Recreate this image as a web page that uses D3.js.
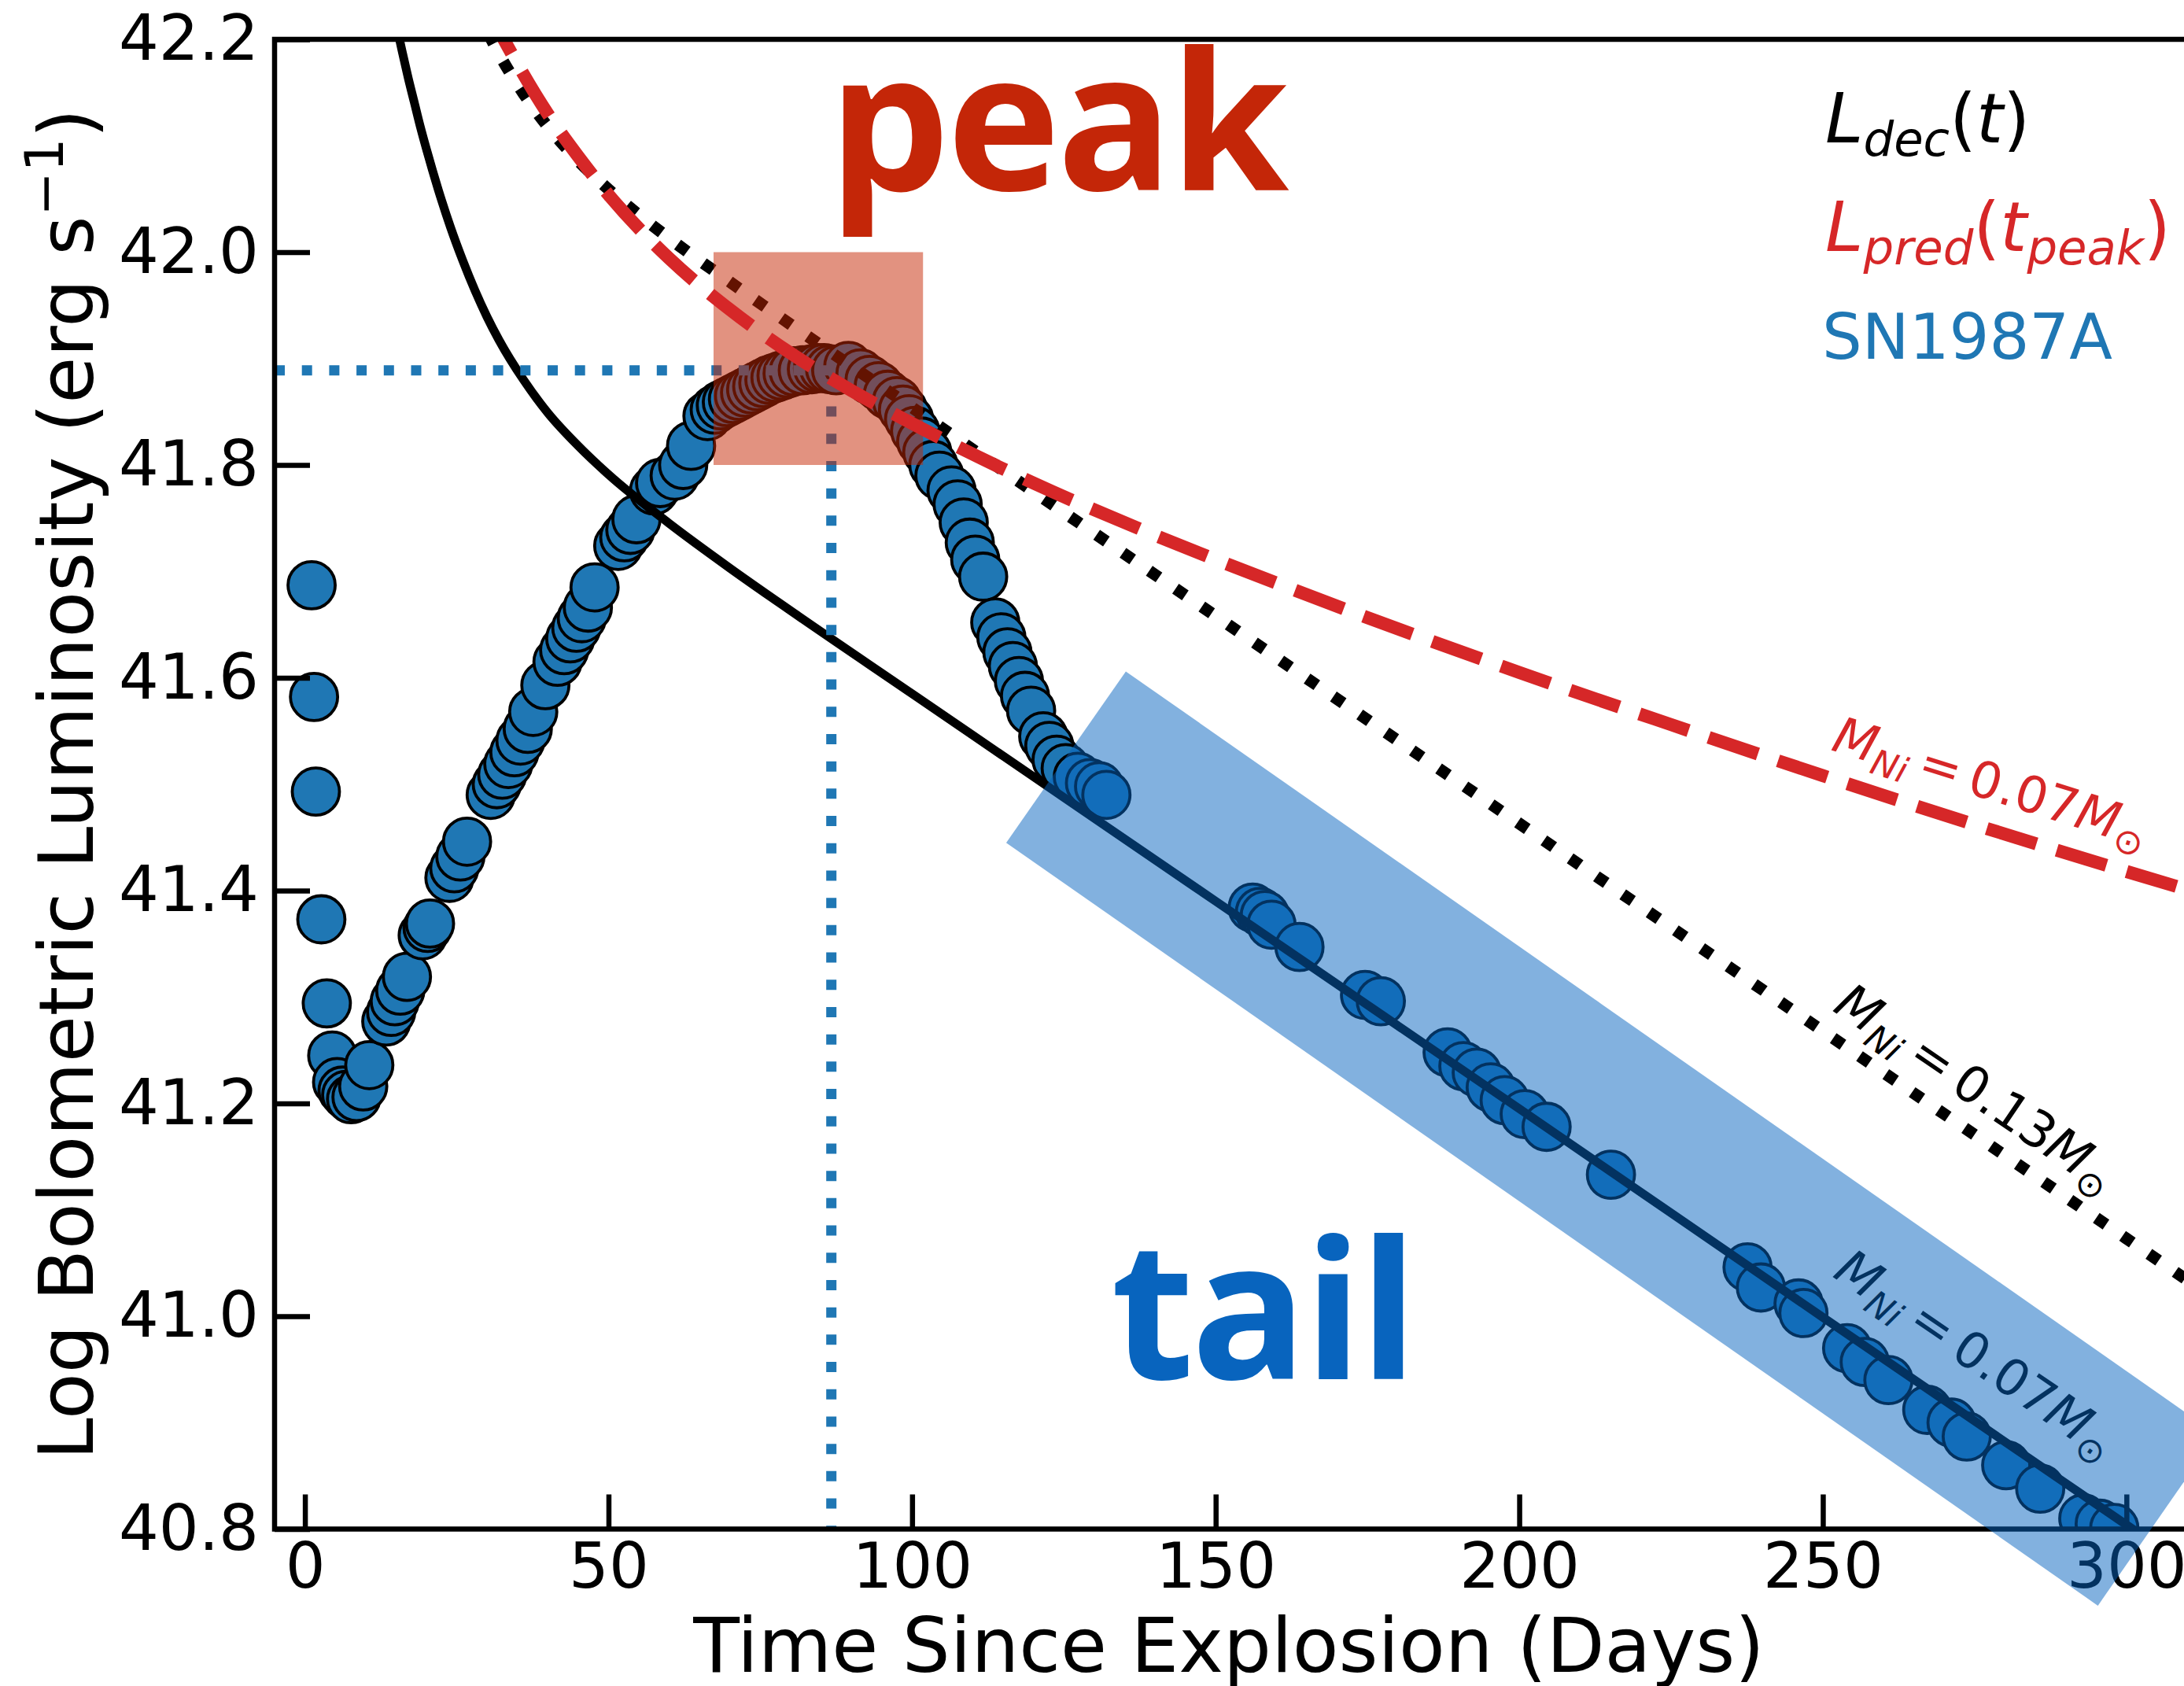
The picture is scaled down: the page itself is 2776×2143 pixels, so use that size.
<!DOCTYPE html>
<html>
<head>
<meta charset="utf-8">
<script src="https://cdn.jsdelivr.net/npm/d3@7"></script>
<style>
  html, body { margin: 0; padding: 0; background: #ffffff; }
  svg { display: block; }
</style>
</head>
<body>
<svg id="chart"></svg>
<script>
// ---------------- data ----------------
// SN1987A bolometric light curve (days since explosion, log L in erg/s)
const snDays = [
  1.1, 1.5, 1.8, 2.7, 3.6, 4.5, 5.3, 6.2, 6.8, 7.6, 8.5, 9.6, 10.6,
  13.4, 14.2, 14.8, 15.7, 16.8, 19.4, 20.2, 20.6, 23.8, 24.6, 25.6, 26.7,
  30.6, 31.6, 32.5, 33.5, 34.5, 35.5, 36.7, 37.6, 39.6,
  41.6, 42.7, 43.7, 44.7, 45.6, 46.6, 47.7,
  51.6, 52.6, 53.6, 54.6,
  57.5, 58.5, 60.9, 62.3, 63.6, 66.3,
  67.5, 68.5, 69.5, 70.5, 71.5, 72.5, 73.5, 74.5, 75.5, 76.5, 77.5, 78.5, 79.5, 80.5,
  82.0, 83.5, 84.5, 85.5, 86.5, 87.5, 89.5, 91.5, 93.0, 94.5, 96.0, 97.5,
  98.5, 99.5, 100.5, 101.5, 102.5, 103.5, 104.5, 106.5, 107.5, 108.5, 109.5, 110.4, 111.7,
  113.7, 114.7, 115.7, 116.6, 117.6, 118.6, 119.6, 121.6, 122.6, 123.8, 125.3, 127.3, 129.3, 130.8, 132.0,
  156.1, 157.3, 158.1, 159.2, 163.8, 174.6, 177.2, 188.2, 190.8, 193.0, 195.3, 197.6, 200.9, 204.5, 215.1,
  237.6, 239.8, 246.0, 246.8, 254.0, 256.9, 260.8, 267.2, 271.2, 273.7, 280.2, 285.8, 292.9, 295.6, 298.0
];
const snLogL = [
  41.687, 41.582, 41.493, 41.373, 41.294, 41.245, 41.220, 41.212, 41.208, 41.204, 41.206, 41.216, 41.236,
  41.277, 41.286, 41.296, 41.306, 41.319, 41.358, 41.365, 41.369, 41.412, 41.421, 41.432, 41.446,
  41.490, 41.500, 41.509, 41.519, 41.530, 41.541, 41.552, 41.568, 41.593,
  41.615, 41.626, 41.637, 41.647, 41.656, 41.666, 41.685,
  41.724, 41.732, 41.739, 41.749,
  41.776, 41.783, 41.790, 41.800, 41.818, 41.846,
  41.852, 41.856, 41.859, 41.862, 41.865, 41.868, 41.871, 41.874, 41.877, 41.880, 41.882, 41.884, 41.886, 41.888,
  41.889, 41.890, 41.891, 41.891, 41.890, 41.889, 41.893, 41.886, 41.880, 41.874, 41.866, 41.860,
  41.852, 41.843, 41.832, 41.822, 41.812, 41.800, 41.790, 41.776, 41.763, 41.746, 41.727, 41.711, 41.695,
  41.652, 41.638, 41.624, 41.611, 41.597, 41.583, 41.569, 41.545, 41.536, 41.523, 41.515, 41.507, 41.501, 41.498, 41.490,
  41.384, 41.380, 41.377, 41.368, 41.347, 41.302, 41.296, 41.248, 41.235, 41.229, 41.215, 41.203, 41.190, 41.178, 41.133,
  41.046, 41.027, 41.012, 41.003, 40.970, 40.957, 40.940, 40.912, 40.900, 40.887, 40.860, 40.838, 40.810, 40.805, 40.801
];

// Radioactive decay luminosity L_dec(t), M_Ni = 0.07 Msun
const decayDays = [15, 15.5, 16, 17, 18, 19, 20, 22, 24, 26, 28, 30, 32, 36, 40, 45, 50, 60, 70, 80, 100, 120, 150, 200, 250, 300, 310];
const decayLogL07 = [42.215, 42.202, 42.189, 42.164, 42.141, 42.118, 42.097, 42.058, 42.023, 41.992, 41.964, 41.939, 41.917, 41.880, 41.849, 41.818, 41.791, 41.745, 41.703, 41.663, 41.585, 41.507, 41.390, 41.195, 40.999, 40.804, 40.765];

// L_dec(t), M_Ni = 0.13 Msun
const decayDays13 = [28, 30, 32, 36, 40, 45, 50, 60, 70, 80, 100, 120, 150, 200, 250, 300, 310];
const decayLogL13 = [42.233, 42.208, 42.186, 42.149, 42.118, 42.086, 42.059, 42.013, 41.972, 41.932, 41.854, 41.775, 41.658, 41.463, 41.268, 41.073, 41.034];

// Predicted peak luminosity L_pred(t_peak), M_Ni = 0.07 Msun
const predDays = [30, 32, 35, 40, 45, 50, 60, 70, 80, 90, 100, 120, 140, 160, 180, 200, 225, 250, 275, 300, 310];
const predLogL = [42.230, 42.208, 42.177, 42.130, 42.090, 42.054, 41.994, 41.946, 41.905, 41.870, 41.839, 41.783, 41.734, 41.689, 41.646, 41.605, 41.556, 41.508, 41.462, 41.418, 41.401];

// Observed peak of SN1987A
const peakTime = 86.7;
const peakLogL = 41.889;

// Highlighted regions (days, log L)
const peakBoxDays = [67.3, 101.8];
const peakBoxLogL = [41.8, 42.0];
const tailBandCorners = [[115.5, 41.445], [135.2, 41.606], [314.9, 40.889], [295.3, 40.728]];

const xTicks = [0, 50, 100, 150, 200, 250, 300];
const yTicks = [40.8, 41.0, 41.2, 41.4, 41.6, 41.8, 42.0, 42.2];

// ---------------- layout ----------------
const W = 2776, H = 2143;
const L = 349, R = 2780, T = 50, B = 1943.5;
const FONT = "'DejaVu Sans', sans-serif";

const svg = d3.select('#chart').attr('width', W).attr('height', H)
  .attr('viewBox', `0 0 ${W} ${H}`);
svg.append('rect').attr('width', W).attr('height', H).attr('fill', '#ffffff');

const x = d3.scaleLinear().domain([-5, 310]).range([L, R]);
const y = d3.scaleLinear().domain([40.8, 42.2]).range([B, T]);

svg.append('defs').append('clipPath').attr('id', 'plot-area')
  .append('rect').attr('x', L).attr('y', T).attr('width', R - L).attr('height', B - T);

const plot = svg.append('g').attr('clip-path', 'url(#plot-area)');

const line = d3.line().x(d => x(d[0])).y(d => y(d[1])).curve(d3.curveMonotoneX);
const straight = d3.line().x(d => x(d[0])).y(d => y(d[1]));

// SN1987A points
plot.append('g').selectAll('circle')
  .data(d3.zip(snDays, snLogL))
  .join('circle')
  .attr('cx', d => x(d[0]))
  .attr('cy', d => y(d[1]))
  .attr('r', 30)
  .attr('fill', '#1f77b4')
  .attr('stroke', '#000000')
  .attr('stroke-width', 3.8);

// L_dec for 0.07 Msun (solid)
plot.append('path')
  .attr('d', line(d3.zip(decayDays, decayLogL07)))
  .attr('fill', 'none').attr('stroke', '#000000').attr('stroke-width', 11);

// L_dec for 0.13 Msun (dotted)
plot.append('path')
  .attr('d', line(d3.zip(decayDays13, decayLogL13)))
  .attr('fill', 'none').attr('stroke', '#000000').attr('stroke-width', 15)
  .attr('stroke-dasharray', '15,25.5');

// peak guides
plot.append('path')
  .attr('d', straight([[-5, peakLogL], [peakTime, peakLogL]]))
  .attr('fill', 'none').attr('stroke', '#1f77b4').attr('stroke-width', 13)
  .attr('stroke-dasharray', '13,21.7');
plot.append('path')
  .attr('d', straight([[peakTime, peakLogL], [peakTime, 40.8]]))
  .attr('fill', 'none').attr('stroke', '#1f77b4').attr('stroke-width', 13)
  .attr('stroke-dasharray', '13,21.7').attr('stroke-dashoffset', 23.5);

// mathtext-like label builder
function mathText(parent, parts, size, color) {
  const t = parent.append('text')
    .attr('font-family', FONT).attr('font-size', size).attr('fill', color);
  let shift = 0;
  parts.forEach(p => {
    const target = p.sub ? 0.2 * size : (p.sup ? -0.38 * size : 0);
    t.append('tspan')
      .text(p.s)
      .attr('font-style', p.it ? 'italic' : 'normal')
      .attr('font-size', (p.sub || p.sup) ? size * 0.7 : size)
      .attr('dy', target - shift);
    shift = target;
  });
  return t;
}
const massLabel = m => [
  { s: 'M', it: true }, { s: 'Ni', it: true, sub: true },
  { s: '\u2009=\u2009' }, { s: m }, { s: 'M', it: true }, { s: '\u2299', sub: true }
];

// ---------------- axes ----------------
const yAxis = d3.axisLeft(y).tickValues(yTicks).tickFormat(d3.format('.1f'))
  .tickSize(-45).tickSizeOuter(0).tickPadding(20);
const gy = svg.append('g').attr('transform', `translate(${L},0)`).call(yAxis);
const xAxis = d3.axisBottom(x).tickValues(xTicks).tickFormat(d3.format('d'))
  .tickSize(-44).tickSizeOuter(0).tickPadding(18);
const gx = svg.append('g').attr('transform', `translate(0,${B})`).call(xAxis);

[gx, gy].forEach(g => {
  g.select('.domain').remove();
  g.selectAll('.tick line').attr('stroke', '#000').attr('stroke-width', 6.5);
  g.selectAll('.tick text').attr('font-family', FONT).attr('font-size', 80).attr('fill', '#000');
});

// frame
svg.append('rect')
  .attr('x', L).attr('y', T).attr('width', R - L).attr('height', B - T)
  .attr('fill', 'none').attr('stroke', '#000').attr('stroke-width', 6.5);

// label that sits under the tail band (tinted by it)
mathText(svg, massLabel('0.07'), 64, '#000000')
  .attr('transform', 'translate(2328,1622) rotate(34.3)');

// highlighted regions
plot.append('rect')
  .attr('x', x(peakBoxDays[0])).attr('y', y(peakBoxLogL[1]))
  .attr('width', x(peakBoxDays[1]) - x(peakBoxDays[0]))
  .attr('height', y(peakBoxLogL[0]) - y(peakBoxLogL[1]))
  .attr('fill', '#c52501').attr('fill-opacity', 0.5);

// the tail band is not clipped: it runs over the bottom axis
svg.append('path')
  .attr('d', straight(tailBandCorners) + 'Z')
  .attr('fill', '#0563bf').attr('fill-opacity', 0.5);

// predicted peak luminosity (dashed)
plot.append('path')
  .attr('d', line(d3.zip(predDays, predLogL)))
  .attr('fill', 'none').attr('stroke', '#d62728').attr('stroke-width', 16.5)
  .attr('stroke-dasharray', '66,27');

// curve labels
mathText(svg, massLabel('0.07'), 64, '#d62728')
  .attr('transform', 'translate(2326,953) rotate(17.5)');
mathText(svg, massLabel('0.13'), 64, '#000000')
  .attr('transform', 'translate(2328,1284) rotate(34.3)');

// big phase words
svg.append('text').text('peak')
  .attr('x', 1053).attr('y', 241.5)
  .attr('font-family', "'Open Sans', sans-serif").attr('font-weight', 700)
  .attr('font-size', 244).attr('letter-spacing', -4).attr('fill', '#c42608');
svg.append('text').text('tail')
  .attr('x', 1412).attr('y', 1753)
  .attr('font-family', "'Open Sans', sans-serif").attr('font-weight', 700)
  .attr('font-size', 244).attr('letter-spacing', -4).attr('fill', '#0864be');

// legend texts
mathText(svg, [{ s: 'L', it: true }, { s: 'dec', it: true, sub: true }, { s: '(' }, { s: 't', it: true }, { s: ')' }], 87, '#000000')
  .attr('transform', 'translate(2320,181)');
mathText(svg, [{ s: 'L', it: true }, { s: 'pred', it: true, sub: true }, { s: '(' }, { s: 't', it: true },
  { s: 'peak', it: true, sub: true }, { s: ')' }], 87, '#d62728')
  .attr('transform', 'translate(2320,319)');
svg.append('text').text('SN1987A')
  .attr('x', 2316).attr('y', 456)
  .attr('font-family', FONT).attr('font-size', 80).attr('fill', '#1f77b4');

// axis titles
svg.append('text').text('Time Since Explosion (Days)')
  .attr('x', 1562).attr('y', 2125).attr('text-anchor', 'middle')
  .attr('font-family', FONT).attr('font-size', 96).attr('fill', '#000');

const ylab = svg.append('text')
  .attr('transform', 'translate(118,997) rotate(-90)')
  .attr('text-anchor', 'middle')
  .attr('font-family', FONT).attr('font-size', 96).attr('fill', '#000');
ylab.append('tspan').text('Log Bolometric Luminosity (erg s');
ylab.append('tspan').text('\u22121').attr('font-size', 67).attr('dy', -38);
ylab.append('tspan').text(')').attr('dy', 38);
</script>
</body>
</html>
